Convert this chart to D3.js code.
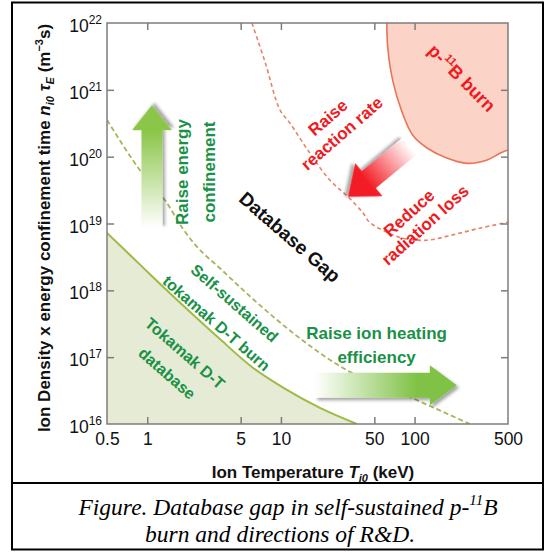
<!DOCTYPE html>
<html><head><meta charset="utf-8">
<script src="https://cdn.jsdelivr.net/npm/d3@7"></script>
<style>body{margin:0;background:#fff}svg{display:block}</style>
</head><body><svg id="c" width="550" height="553"></svg>
<script>
// ---------------- data ----------------
const xTickVals = [0.5, 1, 5, 10, 50, 100, 500];
const xTickLabels = ["0.5", "1", "5", "10", "50", "100", "500"];
const yTickExps = [16, 17, 18, 19, 20, 21, 22];

// Tokamak D-T database boundary (solid green line, shaded below)
const dbT    = [0.5, 0.743, 1.10, 1.98, 3.5, 6.1, 11.1, 19.6, 37];
const dbLogN = [18.86, 18.53, 18.20, 17.72, 17.27, 16.85, 16.51, 16.24, 16.0];

// Self-sustained tokamak D-T burn (dashed green line)
const ssT    = [0.5, 0.88, 1.4, 1.85, 2.36, 3.5, 6.1, 13.5, 32.8, 77.5, 137, 259];
const ssLogN = [20.55, 19.80, 19.31, 18.92, 18.65, 18.33, 17.88, 17.30, 16.78, 16.47, 16.25, 16.0];

// p-11B ignition curve (dashed red line)
const igT    = [6.07, 7.6, 9.84, 11.7, 16.5, 23.2, 31.8, 41, 46, 62, 82, 124, 193, 307, 500];
const igLogN = [22.0, 21.42, 20.70, 20.50, 20.05, 19.65, 19.40, 19.16, 19.02, 18.87, 18.78, 18.75, 18.83, 18.93, 19.02];

// p-11B burn region boundary (filled salmon)
const pbT    = [62, 63, 69, 80.5, 97, 124, 174, 248, 349, 435, 500];
const pbLogN = [22.0, 21.63, 21.12, 20.67, 20.32, 20.13, 19.98, 19.90, 19.95, 20.05, 20.10];

// ---------------- setup ----------------
const svg = d3.select("#c");
const x = d3.scaleLog().domain([0.5, 500]).range([107, 508]);
const y = d3.scaleLog().domain([1e16, 1e22]).range([424, 23]);
const P = (t, l) => [x(t), y(Math.pow(10, l))];

const SANS = "'Liberation Sans', Arial, Helvetica, sans-serif";
const SERIF = "'Liberation Serif', 'Times New Roman', serif";
const GREEN_TXT = "#1a9147";
const RED_TXT = "#f01a22";
const AX = "#7d7d7d";

const defs = svg.append("defs");
const sh = defs.append("filter").attr("id", "shadow").attr("x", "-30%").attr("y", "-30%").attr("width", "160%").attr("height", "160%");
sh.append("feDropShadow").attr("dx", 2.5).attr("dy", 2.5).attr("stdDeviation", 1.8)
  .attr("flood-color", "#000").attr("flood-opacity", 0.35);

function grad(id, c0, c1, mid) {
  const g = defs.append("linearGradient").attr("id", id).attr("x1", 0).attr("y1", 0).attr("x2", 1).attr("y2", 0);
  g.append("stop").attr("offset", "0%").attr("stop-color", c0);
  g.append("stop").attr("offset", (mid || 80) + "%").attr("stop-color", c1);
  g.append("stop").attr("offset", "100%").attr("stop-color", c1);
}
grad("gUp", "#ffffff", "#8cc64a", 78);
grad("gRight", "#ffffff", "#7fc245", 72);
grad("gRed", "#ffffff", "#f31d25", 70);

// ---------------- outer frame ----------------
svg.append("rect").attr("x", 12).attr("y", 2.5).attr("width", 531).attr("height", 547)
  .attr("fill", "none").attr("stroke", "#000").attr("stroke-width", 2);
svg.append("line").attr("x1", 12).attr("x2", 543).attr("y1", 483).attr("y2", 483)
  .attr("stroke", "#000").attr("stroke-width", 2);

// ---------------- plot area ----------------
const plot = svg.append("g");
const clip = defs.append("clipPath").attr("id", "pc");
clip.append("rect").attr("x", x(0.5)).attr("y", y(1e22)).attr("width", x(500) - x(0.5)).attr("height", y(1e16) - y(1e22));
const inner = plot.append("g").attr("clip-path", "url(#pc)");

const lineGen = d3.line().curve(d3.curveCatmullRom.alpha(0.5));
const monoGen = d3.line().curve(d3.curveMonotoneX);

// Tokamak database area
const dbPts = dbT.map((t, i) => P(t, dbLogN[i]));
inner.append("path")
  .attr("d", monoGen(dbPts) + `L${x(37)},${y(1e16)}L${x(0.5)},${y(1e16)}Z`)
  .attr("fill", "#e5ebd4");
inner.append("path").attr("d", monoGen(dbPts)).attr("fill", "none")
  .attr("stroke", "#9dbb45").attr("stroke-width", 2);

// self-sustained dashed
const ssPts = ssT.map((t, i) => P(t, ssLogN[i]));
inner.append("path").attr("d", monoGen(ssPts)).attr("fill", "none")
  .attr("stroke", "#a7b55a").attr("stroke-width", 1.8).attr("stroke-dasharray", "5,3");

// p-11B burn region
const pbPts = pbT.map((t, i) => P(t, pbLogN[i]));
inner.append("path")
  .attr("d", lineGen(pbPts) + `L${x(500) + 2},${y(Math.pow(10, 20.1))}L${x(500) + 2},${y(1e22) - 2}L${x(62)},${y(1e22) - 2}Z`)
  .attr("fill", "#fbd4c7");
inner.append("path").attr("d", lineGen(pbPts)).attr("fill", "none")
  .attr("stroke", "#e9735b").attr("stroke-width", 1.6);

// ignition curve dashed red
const igPts = igT.map((t, i) => P(t, igLogN[i]));
inner.append("path").attr("d", lineGen(igPts)).attr("fill", "none")
  .attr("stroke", "#e8826c").attr("stroke-width", 1.6).attr("stroke-dasharray", "4,3");

// ---------------- arrows ----------------
function arrow(from, to, shaftW, headW, headL, fillId) {
  const [x0, y0] = from, [x1, y1] = to;
  const L = Math.hypot(x1 - x0, y1 - y0);
  const ang = Math.atan2(y1 - y0, x1 - x0) * 180 / Math.PI;
  const s = shaftW / 2, h = headW / 2;
  const pts = [[0, -s], [L - headL, -s], [L - headL, -h], [L, 0], [L - headL, h], [L - headL, s], [0, s]];
  plot.append("g").attr("transform", `translate(${x0},${y0}) rotate(${ang})`)
    .append("path").attr("d", "M" + pts.join("L") + "Z")
    .attr("fill", `url(#${fillId})`).attr("filter", "url(#shadow)");
}
arrow(P(1.085, 18.93), P(1.085, 20.77), 21, 40, 25, "gUp");
arrow(P(18, 16.58), P(207, 16.58), 25, 40, 27, "gRight");
arrow(P(92, 20.16), P(31.8, 19.40), 22, 43, 27, "gRed");

// ---------------- axes ----------------
const axG = plot.append("g");
axG.append("rect").attr("x", x(0.5)).attr("y", y(1e22)).attr("width", x(500) - x(0.5)).attr("height", y(1e16) - y(1e22))
  .attr("fill", "none").attr("stroke", AX).attr("stroke-width", 1.5);

const yTickVals = yTickExps.map(e => Math.pow(10, e));
const axBottom = axG.append("g").attr("transform", `translate(0,${y(1e16)})`)
  .call(d3.axisBottom(x).tickValues(xTickVals).tickSize(-7).tickPadding(9)
    .tickFormat((d, i) => xTickLabels[i]));
const axTop = axG.append("g").attr("transform", `translate(0,${y(1e22)})`)
  .call(d3.axisTop(x).tickValues(xTickVals).tickSize(-7).tickFormat(""));
const axLeft = axG.append("g").attr("transform", `translate(${x(0.5)},0)`)
  .call(d3.axisLeft(y).tickValues(yTickVals).tickSize(-7).tickFormat(""));
const axRight = axG.append("g").attr("transform", `translate(${x(500)},0)`)
  .call(d3.axisRight(y).tickValues(yTickVals).tickSize(-7).tickFormat(""));
[axBottom, axTop, axLeft, axRight].forEach(g => {
  g.select(".domain").remove();
  g.selectAll(".tick line").attr("stroke", AX).attr("stroke-width", 1.5);
});
axBottom.selectAll(".tick text").attr("font-family", SANS).attr("font-size", 17.5).attr("fill", "#111");
[axBottom, axTop].forEach(g => g.selectAll(".tick").filter(d => d === 0.5 || d === 500).select("line").remove());
[axLeft, axRight].forEach(g => g.selectAll(".tick").filter(d => d === 1e16 || d === 1e22).select("line").remove());

// y tick labels 10^n
yTickExps.forEach(e => {
  const t = axG.append("text").attr("x", 102).attr("y", y(Math.pow(10, e)) + 9)
    .attr("text-anchor", "end").attr("font-family", SANS).attr("font-size", 17.5).attr("fill", "#111");
  t.append("tspan").text("10");
  t.append("tspan").attr("dy", -8).attr("font-size", 12).text(String(e));
});

// axis titles
const xt = svg.append("text").attr("x", 313).attr("y", 478).attr("text-anchor", "middle")
  .attr("font-family", SANS).attr("font-size", 17).attr("font-weight", "bold").attr("fill", "#111");
xt.append("tspan").text("Ion Temperature ");
xt.append("tspan").attr("font-style", "italic").text("T");
xt.append("tspan").attr("font-style", "italic").attr("font-size", 11).attr("dy", 4).text("i0");
xt.append("tspan").attr("dy", -4).text(" (keV)");

const yt = svg.append("text").attr("transform", "translate(50,228) rotate(-90)").attr("text-anchor", "middle")
  .attr("font-family", SANS).attr("font-size", 17).attr("font-weight", "bold").attr("fill", "#111");
yt.append("tspan").text("Ion Density x energy confinement time ");
yt.append("tspan").attr("font-style", "italic").text("n");
yt.append("tspan").attr("font-style", "italic").attr("font-size", 11).attr("dy", 4).text("i0");
yt.append("tspan").attr("dy", -4).attr("font-style", "italic").text(" τ");
yt.append("tspan").attr("font-style", "italic").attr("font-size", 11).attr("dy", 4).text("E");
yt.append("tspan").attr("dy", -4).text(" (m");
yt.append("tspan").attr("font-size", 11).attr("dy", -7).text("−3");
yt.append("tspan").attr("dy", 7).text("s)");

// ---------------- annotations ----------------
function label(t, l, angle, txt, color, size, dy) {
  const [px, py] = P(t, l);
  const el = plot.append("text").attr("transform", `translate(${px},${py}) rotate(${angle})`)
    .attr("text-anchor", "middle").attr("dy", dy === undefined ? "0.36em" : dy)
    .attr("font-family", SANS).attr("font-weight", "bold").attr("font-size", size).attr("fill", color);
  if (Array.isArray(txt)) txt.forEach(p => { const s = el.append("tspan").text(p.t); if (p.sup) s.attr("font-size", size * 0.62).attr("dy", -size * 0.42); if (p.after) s.attr("dy", size * 0.42); });
  else el.text(txt);
  return el;
}
label(2.02, 19.77, -90, "Raise energy", GREEN_TXT, 17, 0);
label(3.2, 19.77, -90, "confinement", GREEN_TXT, 17, 0);
label(11.7, 18.80, 41, "Database Gap", "#111", 19);
label(4.5, 17.81, 41, "Self-sustained", GREEN_TXT, 16);
label(3.3, 17.51, 41, "tokamak D-T burn", GREEN_TXT, 16);
label(1.92, 17.06, 41, "Tokamak D-T", GREEN_TXT, 16);
label(1.41, 16.76, 41, "database", GREEN_TXT, 16);
label(52, 17.36, 0, "Raise ion heating", GREEN_TXT, 17);
label(52, 17.01, 0, "efficiency", GREEN_TXT, 17);
label(22.4, 20.59, -41, "Raise", RED_TXT, 17);
label(28.5, 20.35, -41, "reaction rate", RED_TXT, 17);
label(90.5, 19.16, -42, "Reduce", RED_TXT, 17);
label(119.5, 18.98, -42, "radiation loss", RED_TXT, 17);
label(226, 21.18, 45, [{t: "p-"}, {t: "11", sup: true}, {t: "B burn", after: true}], RED_TXT, 18);

// ---------------- caption ----------------
const cap1 = svg.append("text").attr("x", 288).attr("y", 515).attr("text-anchor", "middle")
  .attr("font-family", SERIF).attr("font-style", "italic").attr("font-size", 23.5).attr("fill", "#000");
cap1.append("tspan").text("Figure. Database gap in self-sustained p-");
cap1.append("tspan").attr("font-size", 15).attr("dy", -10).text("11");
cap1.append("tspan").attr("dy", 10).text("B");
svg.append("text").attr("x", 280).attr("y", 542).attr("text-anchor", "middle")
  .attr("font-family", SERIF).attr("font-style", "italic").attr("font-size", 23.5).attr("fill", "#000")
  .text("burn and directions of R&D.");
</script></body></html>
